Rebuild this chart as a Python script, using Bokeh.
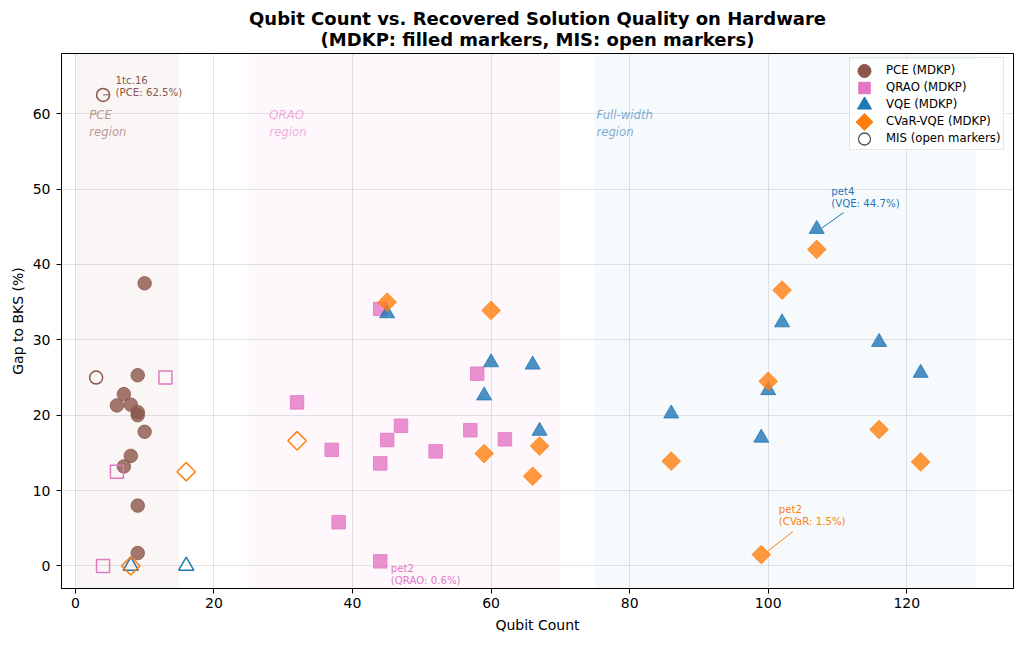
import numpy as np
from bokeh.plotting import figure
from bokeh.models import (Range1d, FixedTicker, BoxAnnotation, Label, Legend,
                          LegendItem, Title, Arrow)
from bokeh.embed import file_html
from bokeh.resources import INLINE

# ---------------- data ----------------
pce_x = [10, 9, 7, 6, 8, 9, 9, 10, 8, 7, 9, 9]
pce_y = [37.5, 25.3, 22.8, 21.3, 21.4, 20.4, 20.0, 17.8, 14.6, 13.2, 8.0, 1.7]

qrao_x = [44, 58, 32, 47, 45, 37, 52, 57, 62, 44, 38, 44]
qrao_y = [34.1, 25.5, 21.7, 18.6, 16.7, 15.4, 15.2, 18.0, 16.8, 13.6, 5.8, 0.6]

vqe_x = [45, 60, 66, 59, 67, 107, 102, 116, 122, 100, 86, 99]
vqe_y = [33.5, 27.0, 26.7, 22.6, 17.9, 44.7, 32.3, 29.7, 25.6, 23.3, 20.2, 17.0]

cvar_x = [45, 60, 59, 67, 66, 107, 102, 100, 116, 86, 122, 99]
cvar_y = [35.0, 33.9, 14.9, 15.9, 11.9, 42.0, 36.6, 24.5, 18.1, 13.9, 13.8, 1.5]

# MIS (open markers)
pce_mis_x = [4, 3]
pce_mis_y = [62.5, 25.0]
qrao_mis_x = [13, 6, 4]
qrao_mis_y = [25.0, 12.5, 0.0]
vqe_mis_x = [8, 16]
vqe_mis_y = [0.0, 0.0]
cvar_mis_x = [16, 8, 32]
cvar_mis_y = [12.5, 0.0, 16.6]

x_ticks = [0, 20, 40, 60, 80, 100, 120]
y_ticks = [0, 10, 20, 30, 40, 50, 60]

regions = [("PCE\nregion", 0, 15), ("QRAO\nregion", 25, 70), ("Full-width\nregion", 75, 130)]

legend_labels = ["PCE (MDKP)", "QRAO (MDKP)", "VQE (MDKP)", "CVaR-VQE (MDKP)", "MIS (open markers)"]

# ---------------- styling ----------------
C_PCE = "#8c564b"
C_QRAO = "#e377c2"
C_VQE = "#1f77b4"
C_CVAR = "#ff7f0e"
C_MIS = "#555555"
FONT = "DejaVu Sans"

X_RANGE = (-2, 135.4)
Y_RANGE = (-3, 68)
FW, FH = 952, 535
SX = FW / (X_RANGE[1] - X_RANGE[0])
SY = FH / (Y_RANGE[1] - Y_RANGE[0])

p = figure(frame_width=FW, frame_height=FH,
           x_range=Range1d(*X_RANGE), y_range=Range1d(*Y_RANGE),
           output_backend="svg", toolbar_location=None, title=None,
           min_border_left=61, min_border_right=8, min_border_top=53,
           min_border_bottom=48, background_fill_color="white",
           border_fill_color="white")

p.add_layout(Title(text="Qubit Count vs. Recovered Solution Quality on Hardware\n"
                        "(MDKP: filled markers, MIS: open markers)",
                   align="center", text_align="center", text_font=FONT,
                   text_font_size="18px", text_font_style="bold", text_color="black",
                   text_line_height=1.0, standoff=7), "above")

# axes
p.xaxis.ticker = FixedTicker(ticks=x_ticks)
p.yaxis.ticker = FixedTicker(ticks=y_ticks)
for ax in (p.xaxis, p.yaxis):
    ax.major_tick_in = 0
    ax.major_tick_out = 5
    ax.minor_tick_in = 0
    ax.minor_tick_out = 0
    ax.axis_line_color = "black"
    ax.major_tick_line_color = "black"
    ax.major_label_text_font = FONT
    ax.major_label_text_font_size = "14px"
    ax.major_label_text_color = "black"
    ax.axis_label_text_font = FONT
    ax.axis_label_text_font_size = "14px"
    ax.axis_label_text_font_style = "normal"
    ax.axis_label_text_color = "black"
p.xaxis.major_label_standoff = 4
p.yaxis.major_label_standoff = 6
p.xaxis.axis_label = "Qubit Count"
p.yaxis.axis_label = "Gap to BKS (%)"
p.xaxis.axis_label_standoff = 6
p.yaxis.axis_label_standoff = 4

p.outline_line_color = "black"
p.outline_line_width = 1
p.outline_line_alpha = 1
p.grid.grid_line_color = "#b0b0b0"
p.grid.grid_line_alpha = 0.35
p.grid.grid_line_width = 1

# region bands
band_styles = [(C_PCE, 0.055, 2.0), (C_QRAO, 0.05, 28.0), (C_VQE, 0.035, 75.2)]
for (lab, lo, hi), (col, a, tx) in zip(regions, band_styles):
    p.add_layout(BoxAnnotation(left=lo, right=hi, fill_color=col, fill_alpha=a,
                               line_color=None, level="image"))
    p.add_layout(Label(x=tx, y=60.8, text=lab, text_font=FONT, text_font_size="11.7px",
                       text_font_style="italic", text_color=col, text_alpha=0.6,
                       text_baseline="top", text_align="left"))

# ---------------- legend geometry (px inside the frame) ----------------
LEG_X, LEG_TOP = 788, 6
LEG_PAD, LEG_GW, LEG_ROW = 3, 24, 17
n_items = len(legend_labels)
leg_h = 2 * LEG_PAD + n_items * LEG_ROW
leg_w = 156

def px_to_x(px):
    return X_RANGE[0] + px / SX

def py_to_y(py):
    return Y_RANGE[1] - py / SY

# translucent white panel behind the legend (above grid, below symbols)
p.add_layout(BoxAnnotation(left=px_to_x(LEG_X), right=px_to_x(LEG_X + leg_w),
                           top=py_to_y(LEG_TOP), bottom=py_to_y(LEG_TOP + leg_h),
                           fill_color="white", fill_alpha=0.85, line_color=None,
                           level="underlay"))

# filled markers (MDKP)
ALPHA = 0.8
p.scatter(pce_x, pce_y, marker="circle", size=13.5, fill_color=C_PCE, fill_alpha=ALPHA,
          line_color=C_PCE, line_alpha=ALPHA, line_width=1)
p.scatter(qrao_x, qrao_y, marker="square", size=13.5, fill_color=C_QRAO, fill_alpha=ALPHA,
          line_color=C_QRAO, line_alpha=ALPHA, line_width=1)
p.scatter(vqe_x, vqe_y, marker="triangle", size=15, fill_color=C_VQE, fill_alpha=ALPHA,
          line_color=C_VQE, line_alpha=ALPHA, line_width=1)
p.scatter(cvar_x, cvar_y, marker="square", angle=np.pi / 4, size=13.2, fill_color=C_CVAR,
          fill_alpha=ALPHA, line_color=C_CVAR, line_alpha=ALPHA, line_width=1)

# open markers (MIS)
p.scatter(pce_mis_x, pce_mis_y, marker="circle", size=13, fill_color=None,
          line_color=C_PCE, line_width=1.5)
p.scatter(qrao_mis_x, qrao_mis_y, marker="square", size=13, fill_color=None,
          line_color=C_QRAO, line_width=1.5)
p.scatter(vqe_mis_x, vqe_mis_y, marker="triangle", size=15, fill_color=None,
          line_color=C_VQE, line_width=1.5)
p.scatter(cvar_mis_x, cvar_mis_y, marker="square", angle=np.pi / 4, size=13, fill_color=None,
          line_color=C_CVAR, line_width=1.5)

# annotations: (text, x, y, color, x_off, y_off, baseline, arrow px offsets)
annots = [
    ("1tc.16\n(PCE: 62.5%)", pce_mis_x[0], pce_mis_y[0], C_PCE, 12.5, -3, "bottom", (6.5, 0.3, 0, 0)),
    ("pet2\n(QRAO: 0.6%)", qrao_x[11], qrao_y[11], C_QRAO, 10.5, -2, "top", None),
    ("pet4\n(VQE: 44.7%)", vqe_x[5], vqe_y[5], C_VQE, 14.5, 20, "bottom", (27, 16.5, 5, 1)),
    ("pet2\n(CVaR: 1.5%)", cvar_x[11], cvar_y[11], C_CVAR, 17.5, 27.5, "bottom", (31.5, 23, 6, 3)),
]
for txt, x, y, col, xo, yo, base, arr in annots:
    p.add_layout(Label(x=x, y=y, x_offset=xo, y_offset=yo, text=txt, text_font=FONT,
                       text_font_size="10.2px", text_color=col, text_baseline=base,
                       text_align="left", text_line_height=1.1))
    if arr is not None:
        sx0, sy0, sx1, sy1 = arr
        p.add_layout(Arrow(end=None, x_start=x + sx0 / SX, y_start=y + sy0 / SY,
                           x_end=x + sx1 / SX, y_end=y + sy1 / SY,
                           line_color=col, line_width=1))

# ---------------- legend ----------------
nan = [np.nan]
carriers = [p.scatter(nan, nan, marker="circle", fill_alpha=0, line_alpha=0)
            for _ in legend_labels]
legend = Legend(items=[LegendItem(label=l, renderers=[r]) for l, r in zip(legend_labels, carriers)],
                glyph_width=LEG_GW, glyph_height=LEG_ROW, label_height=LEG_ROW, spacing=0,
                padding=LEG_PAD, label_standoff=9, margin=0,
                label_text_font=FONT, label_text_font_size="11.7px", label_text_color="black",
                border_line_color="#cccccc", border_line_width=1,
                background_fill_alpha=0,
                location=(LEG_X, FH - LEG_TOP - leg_h))
p.add_layout(legend)

# legend symbols at the legend's glyph slots
sym_x = px_to_x(LEG_X + LEG_PAD + LEG_GW / 2)
sym_specs = [
    dict(marker="circle", size=13, fill_color=C_PCE, line_color=C_PCE),
    dict(marker="square", size=11.5, fill_color=C_QRAO, line_color=C_QRAO),
    dict(marker="triangle", size=14, fill_color=C_VQE, line_color=C_VQE),
    dict(marker="square", angle=np.pi / 4, size=12, fill_color=C_CVAR, line_color=C_CVAR),
    dict(marker="circle", size=12, fill_color=None, line_color=C_MIS, line_width=1.3),
]
for i, spec in enumerate(sym_specs):
    p.scatter([sym_x], [py_to_y(LEG_TOP + LEG_PAD + LEG_ROW * (i + 0.5))], **spec)

open("out.html", "w").write(file_html(p, INLINE))
